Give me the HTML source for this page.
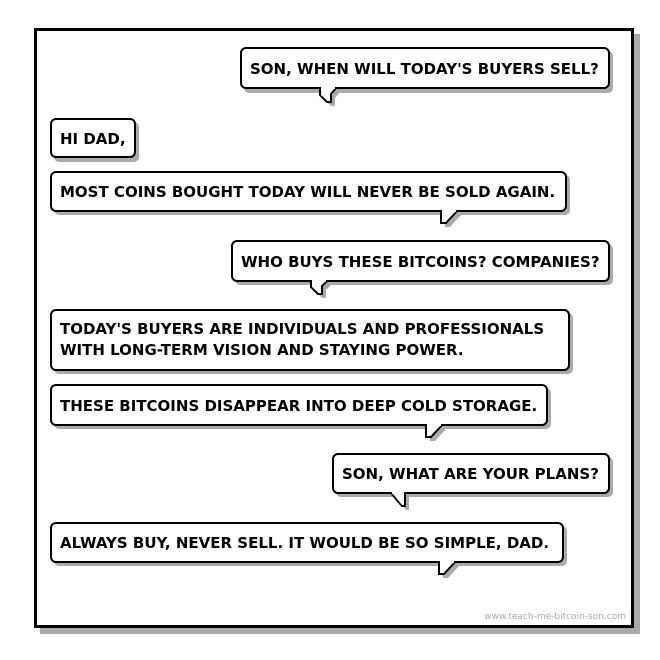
<!DOCTYPE html>
<html><head><meta charset="utf-8"><style>
html,body{margin:0;padding:0;background:#fff;}
svg{display:block;}
text{font-family:"DejaVu Sans","Liberation Sans",sans-serif;font-weight:bold;font-size:15px;fill:#000;}
</style></head><body>
<svg width="660" height="660" viewBox="0 0 660 660" xmlns="http://www.w3.org/2000/svg">
<rect x="0" y="0" width="660" height="660" fill="#fff"/>
<rect x="40" y="34" width="600" height="600" fill="#aaa"/>
<rect x="35.5" y="29.5" width="597" height="597" fill="#fff" stroke="#000" stroke-width="3"/>
<text x="626" y="619" text-anchor="end" style="font-weight:normal;font-size:9px;fill:#aaa">www.teach-me-bitcoin-son.com</text>

<g fill="#aaa">
<rect x="244" y="51" width="369" height="42" rx="5"/>
<rect x="54" y="122" width="85" height="40" rx="5"/>
<rect x="54" y="175" width="516" height="40" rx="5"/>
<rect x="235" y="244" width="378" height="41" rx="5"/>
<rect x="54" y="313" width="519" height="61" rx="5"/>
<rect x="54" y="388" width="497" height="41" rx="5"/>
<rect x="336" y="457" width="277" height="40" rx="5"/>
<rect x="54" y="526" width="513" height="40" rx="5"/>
<polygon points="324,92 324,99 331,106 335,106 335,98 340,92"/>
<polygon points="445,215 445,227 450,227 461,215"/>
<polygon points="315,285 315,291 322,298 326,298 326,290 331,285"/>
<polygon points="430,429 430,441 435,441 446,429"/>
<polygon points="395,497 406,510 409,510 409,497"/>
<polygon points="443,566 443,578 448,578 459,566"/>
</g>
<g fill="#fff" stroke="#000" stroke-width="2">
<rect x="241" y="48" width="368" height="40" rx="5"/>
<rect x="51" y="119" width="84" height="38" rx="5"/>
<rect x="51" y="172" width="515" height="39" rx="5"/>
<rect x="232" y="241" width="377" height="40" rx="5"/>
<rect x="51" y="310" width="518" height="60" rx="5"/>
<rect x="51" y="385" width="496" height="40" rx="5"/>
<rect x="333" y="454" width="276" height="39" rx="5"/>
<rect x="51" y="523" width="512" height="39" rx="5"/>
<polyline points="320,88 320,95 327,102 331,102 331,94 336,88"/>
<polyline points="441,211 441,223 446,223 457,211"/>
<polyline points="311,281 311,287 318,294 322,294 322,286 327,281"/>
<polyline points="426,425 426,437 431,437 442,425"/>
<polyline points="391,493 402,506 405,506 405,493"/>
<polyline points="439,562 439,574 444,574 455,562"/>
</g>
<g fill="#fff">
<rect x="321" y="86" width="14" height="3"/>
<rect x="442" y="209" width="14" height="3"/>
<rect x="312" y="279" width="14" height="3"/>
<rect x="427" y="423" width="14" height="3"/>
<rect x="392" y="491" width="12" height="3"/>
<rect x="440" y="560" width="14" height="3"/>
<polygon points="321,89 321,95 328,101 330,101 330,93 334,89"/>
<polygon points="442,212 442,222 445,222 455,212"/>
<polygon points="312,282 312,287 319,293 321,293 321,285 325,282"/>
<polygon points="427,426 427,436 430,436 440,426"/>
<polygon points="393,494 402,505 404,505 404,494"/>
<polygon points="440,563 440,573 443,573 453,563"/>
</g>

<text x="250" y="74">SON, WHEN WILL TODAY'S BUYERS SELL?</text>
<text x="60" y="144">HI DAD,</text>
<text x="60" y="197">MOST COINS BOUGHT TODAY WILL NEVER BE SOLD AGAIN.</text>
<text x="241" y="267">WHO BUYS THESE BITCOINS? COMPANIES?</text>
<text x="60" y="334">TODAY'S BUYERS ARE INDIVIDUALS AND PROFESSIONALS</text>
<text x="60" y="355">WITH LONG-TERM VISION AND STAYING POWER.</text>
<text x="60" y="411">THESE BITCOINS DISAPPEAR INTO DEEP COLD STORAGE.</text>
<text x="342" y="479">SON, WHAT ARE YOUR PLANS?</text>
<text x="60" y="548">ALWAYS BUY, NEVER SELL. IT WOULD BE SO SIMPLE, DAD.</text>
</svg>
</body></html>
